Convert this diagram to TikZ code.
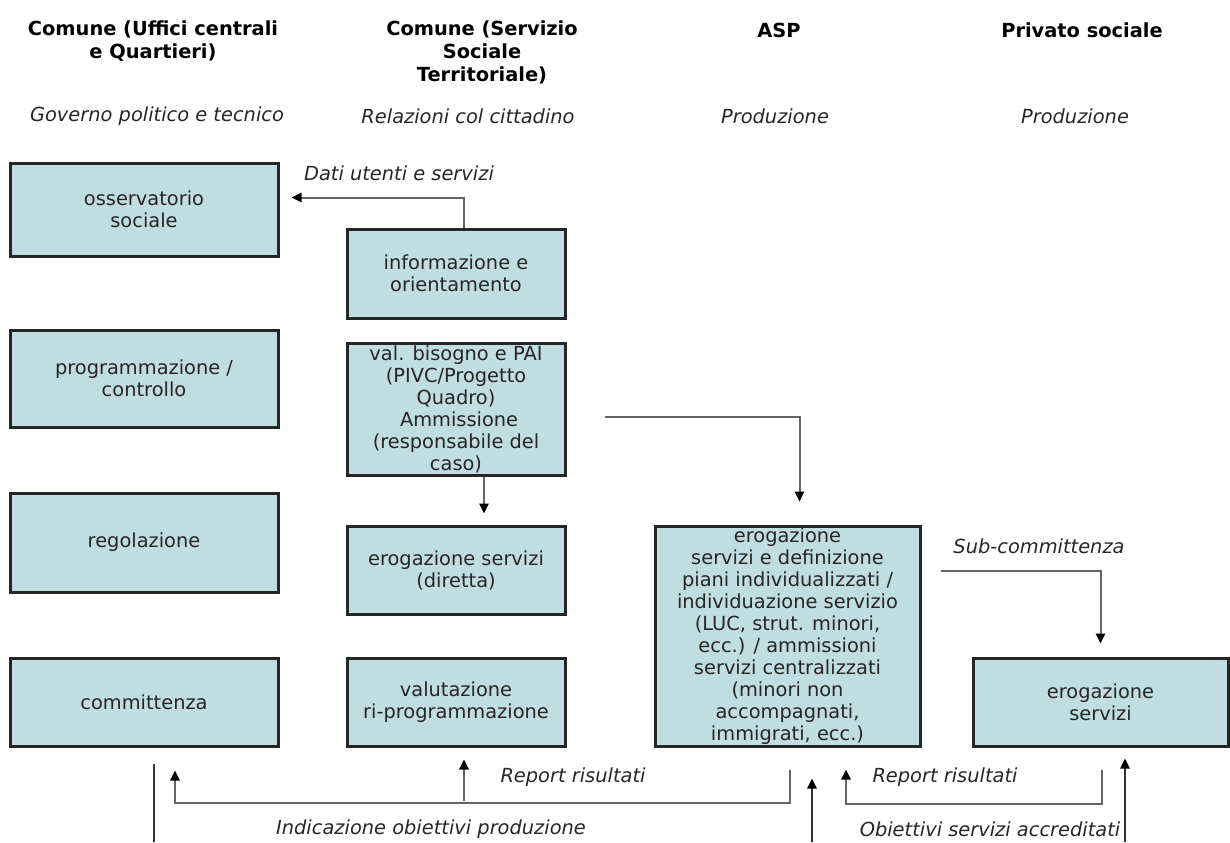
\documentclass[tikz,border=0pt]{standalone}
\usepackage{fontspec}
\setmainfont{DejaVu Sans}
\usetikzlibrary{arrows.meta}
\definecolor{boxfill}{RGB}{192,222,225}
\definecolor{linegray}{RGB}{100,100,100}

\begin{document}
\begin{tikzpicture}[
	x=0.5pt, y=-0.5pt,
	every node/.style={font=\fontsize{9.7}{11}\selectfont, text=black!85},
	box/.style={rectangle, draw=black!85, line width=1.5pt, fill=boxfill, align=center, inner sep=0pt},
	head/.style={font=\fontsize{9.7}{11.5}\selectfont\bfseries, text=black, align=center},
	lab/.style={font=\fontsize{9.7}{11}\selectfont\itshape},
	conn/.style={draw=linegray, line width=1pt, -{Triangle[length=5pt,width=4.6pt,color=black]}},
	dark/.style={draw=black!80},
	wire/.style={draw=black!80, line width=1pt},
	]
\useasboundingbox (0,0) rectangle (1230,842);

\node [head] (h1) at (153,41.5) {Comune (Uffici centrali\\e Quartieri)};
\node [head] (h2) at (482,52) {Comune (Servizio\\Sociale\\Territoriale)};
\node [head] (h3) at (779,30) {ASP};
\node [head] (h4) at (1082,30) {Privato sociale};
\node [lab] (s1) at (157,116) {Governo politico e tecnico};
\node [lab] (s2) at (468,116) {Relazioni col cittadino};
\node [lab] (s3) at (775,116) {Produzione};
\node [lab] (s4) at (1075,116) {Produzione};

\node [box, minimum width=134pt, minimum height=46.5pt] (oss) at (144,209.5) {osservatorio\\sociale};
\node [box, minimum width=109pt, minimum height=44.5pt] (info) at (456,273.5) {informazione e\\orientamento};
\node [box, minimum width=134pt, minimum height=48.5pt] (prog) at (144,378.5) {programmazione /\\controllo};
\node [box, minimum width=109pt, minimum height=66pt] (val) at (456,409) {val. bisogno e PAI\\(PIVC/Progetto\\Quadro)\\\ Ammissione\\(responsabile del\\caso)};
\node [box, minimum width=134pt, minimum height=49.5pt] (reg) at (144,542.5) {regolazione};
\node [box, minimum width=109pt, minimum height=44pt] (dir) at (456,570) {erogazione servizi\\(diretta)};
\node [box, minimum width=134pt, minimum height=44pt] (comm) at (144,702) {committenza};
\node [box, minimum width=109pt, minimum height=44pt] (valut) at (456,702) {valutazione\\ri-programmazione};
\node [box, minimum width=132.5pt, minimum height=110pt] (asp) at (787.5,636) {erogazione\\servizi e definizione\\piani individualizzati /\\individuazione servizio\\(LUC, strut. minori,\\ecc.) / ammissioni\\servizi centralizzati\\(minori non\\accompagnati,\\immigrati, ecc.)};
\node [box, minimum width=127.5pt, minimum height=44pt] (priv) at (1100.5,702) {erogazione\\servizi};

\node [lab] (dati) at (399,173) {Dati utenti e servizi};
\node [lab] (subc) at (1039,546) {Sub-committenza};
\node [lab] (rep1) at (573,777) {Report risultati};
\node [lab] (rep2) at (945,777) {Report risultati};
\node [lab] (ind) at (431,829) {Indicazione obiettivi produzione};
\node [lab] (obs) at (990,829) {Obiettivi servizi accreditati};

\coordinate (repL) at (464,801);
\coordinate (indA) at (154,842);
\coordinate (indB) at (812,842);
\coordinate (obA) at (1125,842);

\draw[conn] ([xshift=4pt]info.north) |- ([xshift=6pt,yshift=6pt]oss.east);
\draw[conn] ([xshift=14pt]val.south) -- ([xshift=14pt,yshift=5.5pt]dir.north);
\draw[conn] ([xshift=19pt,yshift=-4pt]val.east) -| ([xshift=6pt,yshift=11.5pt]asp.north);
\draw[conn] ([xshift=9.5pt,yshift=32.5pt]asp.east) -| ([yshift=6.5pt]priv.north);
\draw[conn] ([xshift=1pt,yshift=-11pt]asp.south) -- ++(0,33) -| ([xshift=15.5pt,yshift=-11.5pt]comm.south);
\draw[conn] (repL) -- ([xshift=4pt,yshift=-6pt]valut.south);
\draw[conn] ([xshift=0.75pt,yshift=-11pt]priv.south) -- ++(0,34) -| ([xshift=29.25pt,yshift=-11pt]asp.south);
\draw[wire] ([xshift=5pt,yshift=-8pt]comm.south) -- (indA);
\draw[conn, dark] (indB) -- ([xshift=12.25pt,yshift=-15.5pt]asp.south);
\draw[conn, dark] (obA) -- ([xshift=12.25pt,yshift=-5.5pt]priv.south);
\end{tikzpicture}
\end{document}
